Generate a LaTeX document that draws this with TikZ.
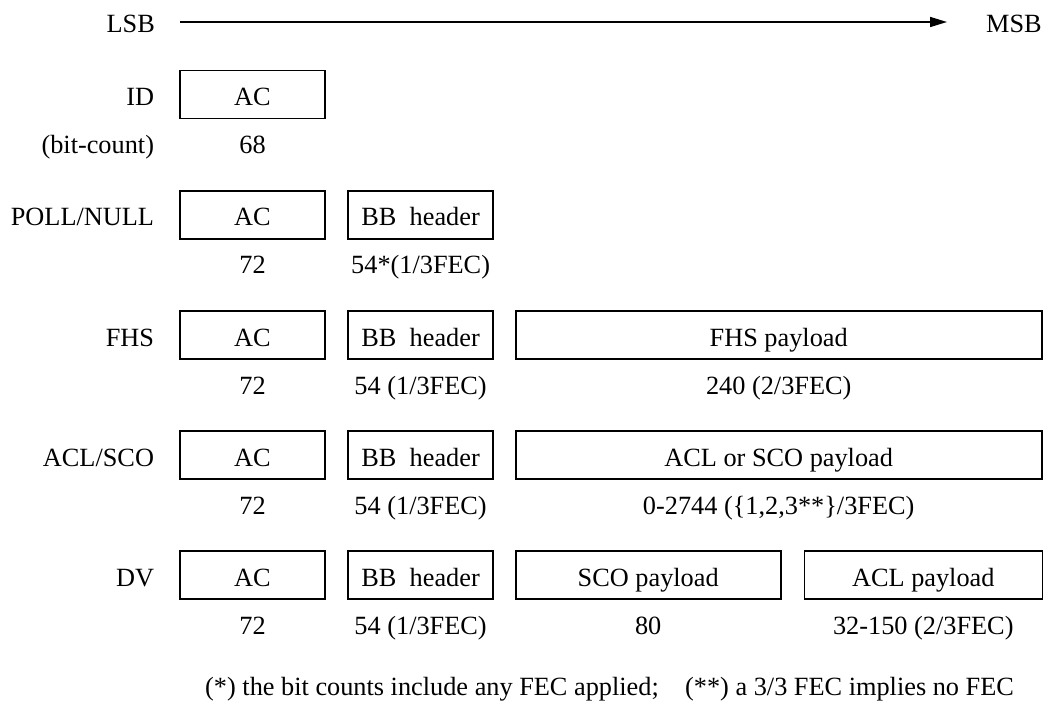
\documentclass[tikz,border=0pt]{standalone}
\usepackage{fontspec}
\setmainfont{Liberation Serif}
\usetikzlibrary{arrows.meta,positioning}

\begin{document}
\begin{tikzpicture}[x=1pt,y=-1pt,
  font=\fontsize{26.3pt}{31pt}\selectfont,
  field/.style={draw,line width=1.6pt,minimum height=48pt,inner sep=0pt,text height=22pt,text depth=0pt},
  tag/.style={inner sep=0pt,text height=22pt,text depth=0pt},
  bits/.style={inner sep=0pt,text height=18pt,text depth=6pt}]
  \useasboundingbox (0,0) rectangle (1044,703);
  \node[tag,anchor=east] (lsb) at (155,22) {LSB};
  \node[tag,anchor=west] (msb) at (986,22) {MSB};
  \draw[-{Triangle[length=17pt,width=10pt]},line width=1.6pt,shorten <=25pt,shorten >=39pt] (lsb) -- (msb);

  \node[field,minimum width=145pt] (id-ac) at (252.5,94.5) {AC};
  \node[tag,left=25pt of id-ac] (id-lab) {ID};
  \node[bits,below=16pt of id-ac] (id-bits) {68};
  \node[bits,anchor=east] (bit-lab) at (id-lab.east |- id-bits) {(bit-count)};

  \foreach \row/\y/\lab/\hdr in {poll/215/{POLL/NULL}/{54*(1/3FEC)}, fhs/335/FHS/{54 (1/3FEC)}, acl/455/{ACL/SCO}/{54 (1/3FEC)}, dv/575/DV/{54 (1/3FEC)}} {
    \node[field,minimum width=145pt] (\row-ac) at (252.5,\y) {AC};
    \node[field,minimum width=145pt,right=21.5pt of \row-ac] (\row-bb) {BB\ \ header};
    \node[tag,left=25pt of \row-ac] (\row-lab) {\lab};
    \node[bits,below=16pt of \row-ac] (\row-acbits) {72};
    \node[bits,below=16pt of \row-bb] (\row-bbbits) {\hdr};
  }

  \node[field,minimum width=526pt,right=21pt of fhs-bb] (fhs-pl) {FHS payload};
  \node[bits,below=16pt of fhs-pl] (fhs-plbits) {240 (2/3FEC)};
  \node[field,minimum width=526pt,right=21pt of acl-bb] (acl-pl) {ACL or SCO payload};
  \node[bits,below=16pt of acl-pl] (acl-plbits) {0-2744 (\{1,2,3**\}/3FEC)};
  \node[field,minimum width=265pt,right=21pt of dv-bb] (dv-sco) {SCO payload};
  \node[field,minimum width=238pt,right=22pt of dv-sco] (dv-acl) {ACL payload};
  \node[bits,below=16pt of dv-sco] (dv-scobits) {80};
  \node[bits,below=16pt of dv-acl] (dv-aclbits) {32-150 (2/3FEC)};

  \node[anchor=base west,inner sep=0pt] (note) at (205,695) {(*) the bit counts include any FEC applied;\quad (**) a 3/3 FEC implies no FEC};
\end{tikzpicture}
\end{document}
